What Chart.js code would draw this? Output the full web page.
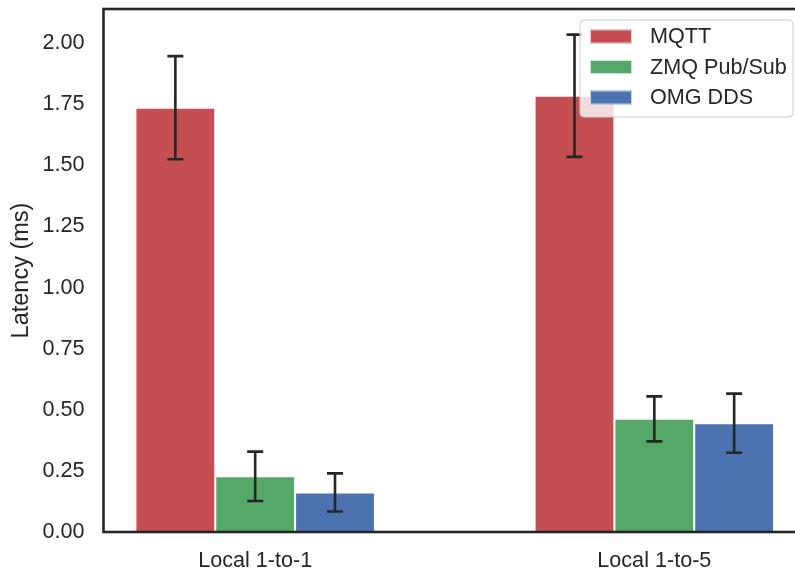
<!DOCTYPE html>
<html>
<head>
<meta charset="utf-8">
<script src="https://cdn.jsdelivr.net/npm/chart.js@4/dist/chart.umd.min.js"></script>
<style>
  html, body { margin: 0; padding: 0; background: #fff; overflow: hidden; }
  #wrap { width: 795px; height: 569px; overflow: hidden; }
  canvas { display: block; }
</style>
</head>
<body>
<div id="wrap"><canvas id="c" width="812" height="569"></canvas></div>
<script>
// Scenarios on the x axis
const categories = ['Local 1-to-1', 'Local 1-to-5'];
const categoryPositions = [0, 1];

// Mean latency (ms) per transport
const seriesNames = ['MQTT', 'ZMQ Pub/Sub', 'OMG DDS'];
const mqttLatency = [1.736, 1.785];
const zmqLatency = [0.228, 0.463];
const ddsLatency = [0.162, 0.445];

// Error bar half-lengths (ms)
const mqttError = [0.211, 0.250];
const zmqError = [0.101, 0.092];
const ddsError = [0.078, 0.121];

// Y axis tick values
const yTicks = [0, 0.25, 0.5, 0.75, 1.0, 1.25, 1.5, 1.75, 2.0];

const colors = ['#C44E52', '#55A868', '#4C72B0'];
const textColor = '#262626';
const fontFamily = '"Liberation Sans", Arial, Helvetica, sans-serif';
const tickSize = 21.6;
const labelSize = 23.5;

const seriesValues = [mqttLatency, zmqLatency, ddsLatency];
const seriesErrors = [mqttError, zmqError, ddsError];

const datasets = seriesNames.map((name, s) => ({
  label: name,
  data: categoryPositions.map((x, i) => ({ x: x, y: seriesValues[s][i] })),
  errors: seriesErrors[s],
  backgroundColor: colors[s],
  borderColor: 'rgba(255,255,255,0.85)',
  borderWidth: 1,
  categoryPercentage: 0.6,
  barPercentage: 1.0
}));

// Error bars with caps, drawn over the bars
const errorBars = {
  id: 'errorBars',
  afterDatasetsDraw(chart) {
    const ctx = chart.ctx;
    const y = chart.scales.y;
    ctx.save();
    ctx.strokeStyle = textColor;
    ctx.lineWidth = 2.6;
    ctx.lineCap = 'butt';
    chart.data.datasets.forEach((ds, di) => {
      const meta = chart.getDatasetMeta(di);
      meta.data.forEach((bar, i) => {
        const v = ds.data[i].y;
        const e = ds.errors[i];
        const top = y.getPixelForValue(v + e);
        const bot = y.getPixelForValue(v - e);
        const x = bar.x;
        const cap = 8;
        ctx.beginPath();
        ctx.moveTo(x, top); ctx.lineTo(x, bot);
        ctx.moveTo(x - cap, top); ctx.lineTo(x + cap, top);
        ctx.moveTo(x - cap, bot); ctx.lineTo(x + cap, bot);
        ctx.stroke();
      });
    });
    ctx.restore();
  }
};

// Axes frame (all four spines)
const frame = {
  id: 'frame',
  afterDraw(chart) {
    const a = chart.chartArea;
    const ctx = chart.ctx;
    ctx.save();
    ctx.strokeStyle = textColor;
    ctx.lineWidth = 2.6;
    ctx.strokeRect(a.left, a.top, a.right - a.left, a.bottom - a.top);
    ctx.restore();
  }
};

// Legend box in the upper right corner of the plot
const insetLegend = {
  id: 'insetLegend',
  afterDraw(chart) {
    const ctx = chart.ctx;
    const a = chart.chartArea;
    const right = a.right - 13;
    const left = 580, top = 20, bottom = 117;
    const r = 4;
    ctx.save();
    ctx.beginPath();
    ctx.moveTo(left + r, top);
    ctx.lineTo(right - r, top);
    ctx.arcTo(right, top, right, top + r, r);
    ctx.lineTo(right, bottom - r);
    ctx.arcTo(right, bottom, right - r, bottom, r);
    ctx.lineTo(left + r, bottom);
    ctx.arcTo(left, bottom, left, bottom - r, r);
    ctx.lineTo(left, top + r);
    ctx.arcTo(left, top, left + r, top, r);
    ctx.closePath();
    ctx.fillStyle = 'rgba(255,255,255,0.8)';
    ctx.fill();
    ctx.strokeStyle = '#cccccc';
    ctx.lineWidth = 1;
    ctx.stroke();

    ctx.font = tickSize + 'px ' + fontFamily;
    ctx.textBaseline = 'middle';
    ctx.textAlign = 'left';
    const rows = [36.5, 67, 97.5];
    chart.data.datasets.forEach((ds, i) => {
      const cy = rows[i];
      ctx.fillStyle = ds.backgroundColor;
      ctx.fillRect(590, cy - 7, 42, 14);
      ctx.strokeStyle = 'rgba(255,255,255,0.7)';
      ctx.strokeRect(590.5, cy - 6.5, 41, 13);
      ctx.fillStyle = textColor;
      ctx.fillText(ds.label, 650, cy + 1);
    });
    ctx.restore();
  }
};

// Keep the plot area fixed: no extra room for overhanging tick labels
function clearPadding(scale) {
  scale.paddingTop = 0;
  scale.paddingBottom = 0;
  scale.paddingLeft = 0;
  scale.paddingRight = 0;
}

new Chart(document.getElementById('c'), {
  type: 'bar',
  data: { datasets },
  options: {
    responsive: false,
    animation: false,
    layout: { padding: { top: 9, right: 6, left: 0, bottom: 0 } },
    plugins: { legend: { display: false }, tooltip: { enabled: false } },
    scales: {
      x: {
        type: 'linear',
        offset: false,
        min: -0.38,
        max: 1.38,
        grid: { display: false, drawTicks: false, offset: false },
        border: { display: false },
        afterBuildTicks(scale) { scale.ticks = categoryPositions.map(v => ({ value: v })); },
        afterFit(scale) { scale.height = 37; clearPadding(scale); },
        ticks: {
          padding: 16,
          color: textColor,
          font: { family: fontFamily, size: tickSize },
          callback: (v) => categories[categoryPositions.indexOf(v)] ?? ''
        }
      },
      y: {
        min: 0,
        max: 2.14,
        grid: { display: false, drawTicks: false },
        border: { display: false },
        afterBuildTicks(scale) { scale.ticks = yTicks.map(v => ({ value: v })); },
        afterFit(scale) { scale.width = 103.5; clearPadding(scale); },
        ticks: {
          padding: 19,
          color: textColor,
          font: { family: fontFamily, size: tickSize },
          callback: (v) => Number(v).toFixed(2)
        },
        title: {
          display: true,
          text: 'Latency (ms)',
          color: textColor,
          font: { family: fontFamily, size: labelSize },
          padding: { top: 7.5, bottom: 0 }
        }
      }
    }
  },
  plugins: [errorBars, frame, insetLegend]
});
</script>
</body>
</html>
